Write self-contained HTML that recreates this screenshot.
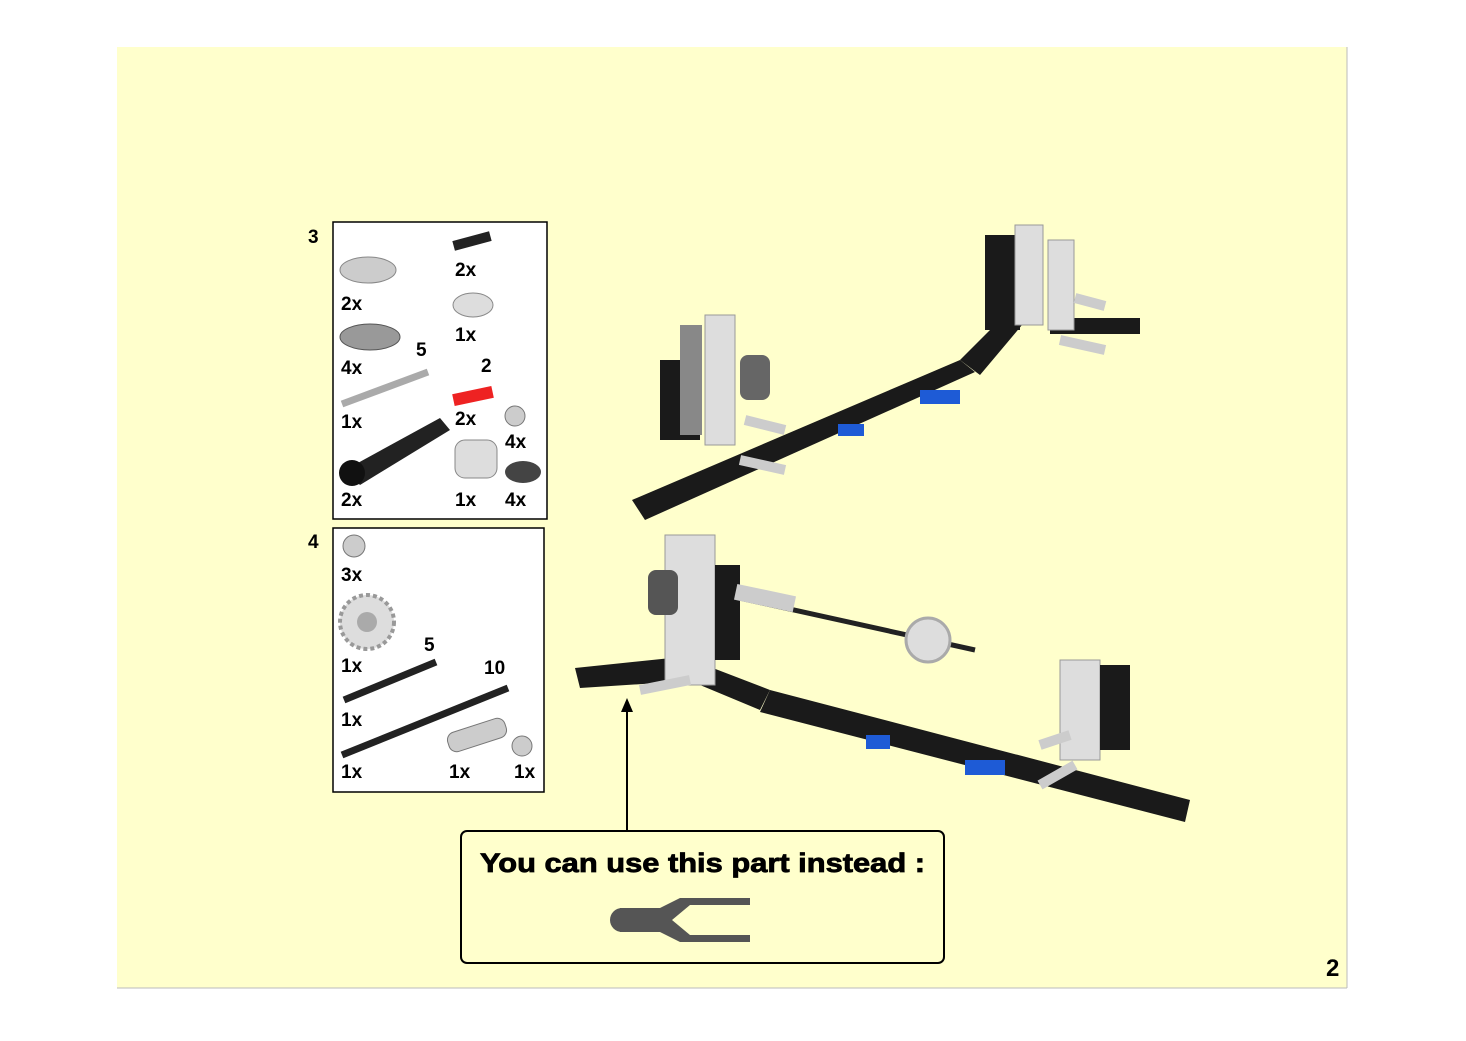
<!DOCTYPE html>
<html><head><meta charset="utf-8"><style>
body{margin:0;background:#fff;width:1466px;height:1036px;overflow:hidden;font-family:"Liberation Sans",Arial,sans-serif}
</style></head><body>
<svg width="1466" height="1036" xmlns="http://www.w3.org/2000/svg" font-family="Liberation Sans, Arial, sans-serif" font-weight="bold">
<rect x="117" y="47" width="1230" height="941" fill="#FFFFCC"/>
<line x1="1347" y1="47" x2="1347" y2="988" stroke="#bbb"/>
<line x1="117" y1="988" x2="1347" y2="988" stroke="#bbb"/>
<!-- step 3 -->
<text x="308" y="243" font-size="19">3</text>
<rect x="333" y="222" width="214" height="297" fill="#fff" stroke="#000" stroke-width="1.5"/>
<g font-size="19">
<ellipse cx="368" cy="270" rx="28" ry="13" fill="#ccc" stroke="#888"/><text x="341" y="310">2x</text>
<rect x="453" y="236" width="38" height="10" fill="#222" transform="rotate(-15 472 241)"/><text x="455" y="276">2x</text>
<ellipse cx="370" cy="337" rx="30" ry="13" fill="#999" stroke="#555"/><text x="341" y="374">4x</text><text x="416" y="356">5</text>
<ellipse cx="473" cy="305" rx="20" ry="12" fill="#ddd" stroke="#888"/><text x="455" y="341">1x</text>
<line x1="342" y1="404" x2="428" y2="372" stroke="#aaa" stroke-width="7"/><text x="341" y="428">1x</text>
<text x="481" y="372">2</text><rect x="453" y="390" width="40" height="12" fill="#e22" transform="rotate(-12 473 396)"/><text x="455" y="425">2x</text>
<circle cx="515" cy="416" r="10" fill="#ccc" stroke="#777"/><text x="505" y="448">4x</text>
<path d="M345 470 L440 418 L450 430 L360 485 Z" fill="#222"/><circle cx="352" cy="473" r="13" fill="#111"/><text x="341" y="506">2x</text>
<rect x="455" y="440" width="42" height="38" rx="10" fill="#ddd" stroke="#888"/><text x="455" y="506">1x</text>
<ellipse cx="523" cy="472" rx="18" ry="11" fill="#444"/><text x="505" y="506">4x</text>
</g>
<!-- step 4 -->
<text x="308" y="548" font-size="19">4</text>
<rect x="333" y="528" width="211" height="264" fill="#fff" stroke="#000" stroke-width="1.5"/>
<g font-size="19">
<circle cx="354" cy="546" r="11" fill="#ccc" stroke="#777"/><text x="341" y="581">3x</text>
<circle cx="367" cy="622" r="27" fill="#ddd" stroke="#999" stroke-width="4" stroke-dasharray="4 3"/><circle cx="367" cy="622" r="10" fill="#aaa"/><text x="341" y="672">1x</text>
<text x="424" y="651">5</text><line x1="344" y1="700" x2="436" y2="662" stroke="#222" stroke-width="7"/><text x="341" y="726">1x</text>
<text x="484" y="674">10</text><line x1="342" y1="755" x2="508" y2="688" stroke="#222" stroke-width="7"/><text x="341" y="778">1x</text>
<rect x="447" y="725" width="60" height="20" rx="8" fill="#ccc" stroke="#777" transform="rotate(-18 477 735)"/><text x="449" y="778">1x</text>
<circle cx="522" cy="746" r="10" fill="#ccc" stroke="#777"/><text x="514" y="778">1x</text>
</g>
<!-- model 1 -->
<g>
<path d="M632 500 L960 360 L975 372 L645 520 Z" fill="#1a1a1a"/>
<path d="M960 360 L1000 320 L1022 325 L980 375 Z" fill="#1a1a1a"/>
<path d="M1050 318 L1140 318 L1140 334 L1050 334 Z" fill="#1a1a1a"/>
<rect x="660" y="360" width="40" height="80" fill="#1a1a1a"/>
<rect x="680" y="325" width="22" height="110" fill="#888"/>
<rect x="705" y="315" width="30" height="130" fill="#ddd" stroke="#999"/>
<rect x="740" y="355" width="30" height="45" rx="8" fill="#666"/>
<line x1="740" y1="460" x2="785" y2="470" stroke="#ccc" stroke-width="10"/>
<line x1="745" y1="420" x2="785" y2="430" stroke="#ccc" stroke-width="10"/>
<rect x="985" y="235" width="35" height="95" fill="#1a1a1a"/>
<rect x="1015" y="225" width="28" height="100" fill="#ddd" stroke="#999"/>
<rect x="1048" y="240" width="26" height="90" fill="#ddd" stroke="#999"/>
<line x1="1060" y1="340" x2="1105" y2="350" stroke="#ccc" stroke-width="10"/>
<line x1="1075" y1="298" x2="1105" y2="306" stroke="#ccc" stroke-width="10"/>
<rect x="838" y="424" width="26" height="12" fill="#1e5bd6"/><rect x="920" y="390" width="40" height="14" fill="#1e5bd6"/>
</g>
<!-- model 2 -->
<g>
<path d="M575 668 L700 655 L705 680 L580 688 Z" fill="#1a1a1a"/>
<path d="M705 665 L770 690 L760 710 L700 685 Z" fill="#1a1a1a"/>
<path d="M770 690 L1190 800 L1185 822 L760 712 Z" fill="#1a1a1a"/>
<rect x="665" y="535" width="50" height="150" fill="#ddd" stroke="#999"/>
<rect x="715" y="565" width="25" height="95" fill="#1a1a1a"/>
<rect x="648" y="570" width="30" height="45" rx="8" fill="#555"/>
<line x1="735" y1="597" x2="975" y2="650" stroke="#222" stroke-width="5"/>
<rect x="735" y="590" width="60" height="16" fill="#ccc" transform="rotate(12 765 598)"/>
<circle cx="928" cy="640" r="22" fill="#ddd" stroke="#aaa" stroke-width="3"/>
<line x1="640" y1="690" x2="690" y2="680" stroke="#ccc" stroke-width="10"/>
<rect x="1060" y="660" width="40" height="100" fill="#ddd" stroke="#999"/>
<rect x="1100" y="665" width="30" height="85" fill="#1a1a1a"/>
<line x1="1040" y1="785" x2="1075" y2="765" stroke="#ccc" stroke-width="10"/>
<line x1="1040" y1="745" x2="1070" y2="735" stroke="#ccc" stroke-width="10"/>
<rect x="866" y="735" width="24" height="14" fill="#1e5bd6"/><rect x="965" y="760" width="40" height="15" fill="#1e5bd6"/>
</g>
<!-- arrow -->
<line x1="627" y1="831" x2="627" y2="710" stroke="#000" stroke-width="2"/>
<path d="M621 712 L627 698 L633 712 Z" fill="#000"/>
<rect x="461" y="831" width="483" height="132" rx="6" fill="#FFFFCC" stroke="#000" stroke-width="2"/>
<text x="480" y="872" font-size="27" textLength="445" lengthAdjust="spacingAndGlyphs" stroke="#000" stroke-width="0.8">You can use this part instead :</text>
<path d="M620 908 L660 908 L680 898 L750 898 L750 905 L690 905 L672 920 L690 935 L750 935 L750 942 L680 942 L660 932 L620 932 Z" fill="#555"/>
<circle cx="622" cy="920" r="12" fill="#555"/>
<text x="1326" y="976" font-size="24">2</text>
</svg>
</body></html>
